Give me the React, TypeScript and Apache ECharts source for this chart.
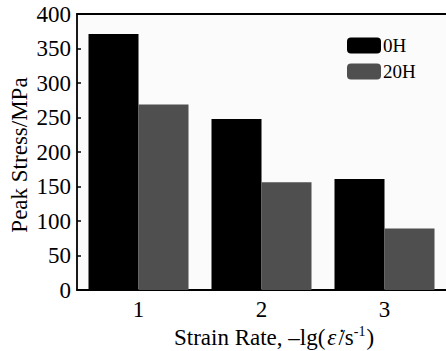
import React, { useEffect, useRef } from 'react';
import * as echarts from 'echarts';

const categories = ['1', '2', '3'];
const seriesNames = ['0H', '20H'];
const values0H = [371, 248, 161];
const values20H = [269, 156, 89];
const seriesColors = ['#000000', '#4f4f4f'];
const yMin = 0;
const yMax = 400;
const yInterval = 50;
const yTitle = 'Peak Stress/MPa';

const FONT = "'Liberation Serif', 'Times New Roman', serif";

export default function App() {
  const ref = useRef<HTMLDivElement>(null);
  useEffect(() => {
    if (!ref.current) return;
    const chart = echarts.init(ref.current, null, { renderer: 'svg' });
    const axisLine = { show: true, lineStyle: { color: '#000', width: 1.8 } };
    chart.setOption({
      animation: false,
      backgroundColor: '#ffffff',
      textStyle: { fontFamily: FONT },
      grid: {
        left: 77,
        top: 14,
        width: 369,
        height: 276,
        show: true,
        backgroundColor: '#fbfbfb',
        borderWidth: 0,
      },
      legend: {
        orient: 'vertical',
        left: 342,
        top: 31,
        itemWidth: 34,
        itemHeight: 16,
        itemGap: 7,
        data: seriesNames,
        textStyle: {
          fontFamily: FONT,
          fontSize: 19,
          color: '#000',
          lineHeight: 16,
          padding: [0, 0, 0, -3],
        },
      },
      xAxis: [
        {
          type: 'category',
          data: categories,
          axisLine,
          axisTick: { show: false },
          axisLabel: { fontFamily: FONT, fontSize: 23, color: '#000', margin: 8 },
          splitLine: { show: false },
        },
        {
          type: 'category',
          position: 'top',
          data: categories,
          axisLine,
          axisTick: { show: false },
          axisLabel: { show: false },
          splitLine: { show: false },
        },
      ],
      yAxis: {
        type: 'value',
        min: yMin,
        max: yMax,
        interval: yInterval,
        axisLine,
        axisTick: { show: true, inside: true, length: 4, lineStyle: { color: '#000', width: 1.5 } },
        axisLabel: { fontFamily: FONT, fontSize: 23, color: '#000', margin: 6 },
        splitLine: { show: false },
      },
      series: [
        {
          name: seriesNames[0],
          type: 'bar',
          data: values0H,
          barWidth: 50,
          barGap: '0%',
          itemStyle: { color: seriesColors[0] },
        },
        {
          name: seriesNames[1],
          type: 'bar',
          data: values20H,
          barWidth: 50,
          barGap: '0%',
          itemStyle: { color: seriesColors[1] },
        },
      ],
      graphic: [
        {
          type: 'text',
          x: 19,
          y: 155,
          rotation: Math.PI / 2,
          style: {
            text: yTitle,
            fontFamily: FONT,
            fontSize: 23,
            fill: '#000',
            align: 'center',
            verticalAlign: 'middle',
          },
        },
        {
          type: 'text',
          x: 274,
          y: 337,
          style: {
            text: '{a|Strain Rate, –lg(}{e|ε̇}{a|/s}{s|-1}{a|)}',
            fontFamily: FONT,
            fontSize: 23,
            fill: '#000',
            align: 'center',
            verticalAlign: 'middle',
            rich: {
              a: { fontFamily: FONT, fontSize: 23, fill: '#000', lineHeight: 26 },
              e: { fontFamily: FONT, fontSize: 23, fontStyle: 'italic', fill: '#000', lineHeight: 26, padding: [0, 2, 0, 2] },
              s: { fontFamily: FONT, fontSize: 14, fill: '#000', lineHeight: 26, verticalAlign: 'top', padding: [0, 1, 0, 0] },
            },
          },
        },
      ],
    });
    return () => chart.dispose();
  }, []);
  return (
    <div
      ref={ref}
      style={{ position: 'fixed', left: 0, top: 0, width: 446, height: 351 }}
    />
  );
}
